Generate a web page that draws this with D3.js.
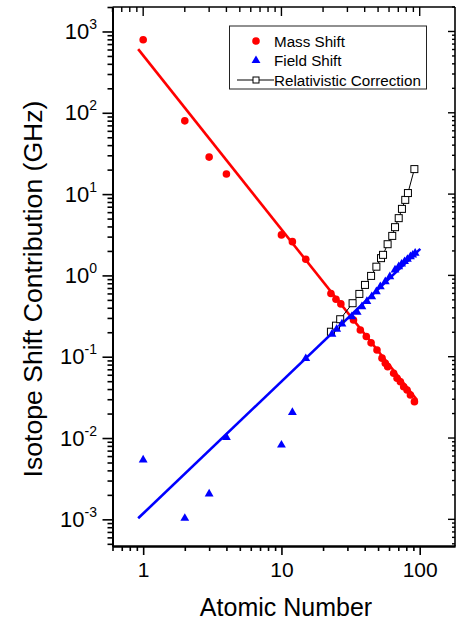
<!DOCTYPE html>
<html>
<head>
<meta charset="utf-8">
<script src="https://cdn.jsdelivr.net/npm/d3@7"></script>
<style>
  html, body { margin: 0; padding: 0; background: #fff; }
  svg { display: block; font-family: "Liberation Sans", Arial, Helvetica, sans-serif; }
</style>
</head>
<body>
<svg id="chart" width="456" height="623"></svg>
<script>
// ---------------- data ----------------
const massZ = [1, 2, 3, 4, 10, 12, 15, 22.8, 24.8, 26.9, 33.2, 37.2, 41.1, 44.5, 49.1, 53.4, 56.4, 58.7, 64.8, 68.6, 72.5, 76.6, 81, 85.7, 91.6];
const massShift = [791, 79.6, 28.5, 17.7, 3.15, 2.6, 1.58, 0.60, 0.51, 0.446, 0.283, 0.213, 0.177, 0.148, 0.121, 0.096, 0.083, 0.0755, 0.0626, 0.0543, 0.0493, 0.0428, 0.039, 0.0338, 0.028];

const fieldZ = [1, 2, 3, 4, 10, 12, 15, 23.2, 25.1, 27.4, 32.3, 35.3, 38.2, 41.5, 45, 48.6, 51.9, 56.4, 60.8, 66.3, 70.5, 74, 77.7, 81.5, 85.7, 89, 92.7];
const fieldShift = [0.00537, 0.00103, 0.00205, 0.0102, 0.0082, 0.0207, 0.095, 0.189, 0.218, 0.253, 0.311, 0.352, 0.413, 0.48, 0.548, 0.632, 0.728, 0.839, 0.966, 1.17, 1.28, 1.38, 1.48, 1.58, 1.70, 1.78, 1.88];

const relZ = [22.8, 24.8, 26.6, 32.7, 36.6, 40.2, 44.5, 48.6, 52.5, 54.3, 58.6, 63.3, 66.3, 70.5, 74.4, 78.6, 82.2, 91.5];
const relCorr = [0.203, 0.241, 0.289, 0.455, 0.592, 0.764, 0.986, 1.28, 1.63, 1.79, 2.42, 3.06, 3.92, 5.06, 6.58, 8.49, 10.3, 20.3];

// power-law fit lines (end points)
const massFitZ = [0.92, 95.7];
const massFitV = [607, 0.0294];
const fieldFitZ = [0.92, 101];
const fieldFitV = [0.00103, 2.12];

const xTickValues = [1, 10, 100];
const xTickLabels = ["1", "10", "100"];
const yTickExponents = [-3, -2, -1, 0, 1, 2, 3];

const legendLabels = ["Mass Shift", "Field Shift", "Relativistic Correction"];
const xTitle = "Atomic Number";
const yTitle = "Isotope Shift Contribution (GHz)";

// ---------------- layout ----------------
const pLeft = 112.5, pRight = 455, pTop = 7, pBottom = 546;
const svg = d3.select("#chart");

const x = d3.scaleLog().domain([0.6, 180]).range([pLeft, pRight]);
const y = d3.scaleLog().domain([4.7e-4, 2000]).range([pBottom, pTop]);

const xMinor = x.ticks().filter(v => !xTickValues.some(m => Math.abs(m - v) / m < 1e-9));
const yMajor = yTickExponents.map(e => Math.pow(10, e));
const yMinor = y.ticks().filter(v => !yMajor.some(m => Math.abs(m - v) / m < 1e-9));

const axisColor = "#000";

// frame lines
const frame = svg.append("g").attr("stroke", axisColor).attr("fill", "none");
frame.append("line").attr("x1", pLeft).attr("x2", pRight).attr("y1", pTop).attr("y2", pTop).attr("stroke-width", 1.6);
frame.append("line").attr("x1", pRight).attr("x2", pRight).attr("y1", pTop).attr("y2", pBottom).attr("stroke-width", 1.6);

// bottom axis
const gxMinor = svg.append("g").attr("transform", `translate(0,${pBottom})`)
  .call(d3.axisBottom(x).tickValues(xMinor).tickSize(5).tickSizeOuter(0).tickFormat(""));
const gx = svg.append("g").attr("transform", `translate(0,${pBottom})`)
  .call(d3.axisBottom(x).tickValues(xTickValues).tickSize(9).tickSizeOuter(0).tickPadding(7)
    .tickFormat((d, i) => xTickLabels[i]));
gx.selectAll("text").attr("font-size", 21).attr("fill", "#000").attr("font-family", "Liberation Sans, Arial, sans-serif");

// left axis
const gyMinor = svg.append("g").attr("transform", `translate(${pLeft},0)`)
  .call(d3.axisLeft(y).tickValues(yMinor).tickSize(5).tickSizeOuter(0).tickFormat(""));
const gy = svg.append("g").attr("transform", `translate(${pLeft},0)`)
  .call(d3.axisLeft(y).tickValues(yMajor).tickSize(10).tickSizeOuter(0).tickFormat(""));

[gxMinor, gx, gyMinor, gy].forEach(g => {
  g.select(".domain").attr("stroke", axisColor).attr("stroke-width", 2);
  g.selectAll(".tick line").attr("stroke", axisColor).attr("stroke-width", 1.6);
});

// y tick labels with superscripts
const yl = svg.append("g").attr("font-size", 22).attr("fill", "#000").attr("text-anchor", "end");
yTickExponents.forEach(e => {
  const t = yl.append("text").attr("x", 97).attr("y", y(Math.pow(10, e)) + 7.5);
  t.append("tspan").text("10");
  t.append("tspan").attr("font-size", 14).attr("dy", -10).text(String(e));
});

// top axis ticks (inward)
const topTicks = svg.append("g").attr("stroke", axisColor).attr("stroke-width", 1.4);
xMinor.forEach(v => topTicks.append("line").attr("x1", x(v)).attr("x2", x(v)).attr("y1", pTop).attr("y2", pTop + 5));
xTickValues.forEach(v => topTicks.append("line").attr("x1", x(v)).attr("x2", x(v)).attr("y1", pTop).attr("y2", pTop + 9));

// right axis ticks (inward)
const rightTicks = svg.append("g").attr("stroke", axisColor).attr("stroke-width", 1.4);
yMinor.forEach(v => rightTicks.append("line").attr("x1", pRight).attr("x2", pRight - 3).attr("y1", y(v)).attr("y2", y(v)));
yMajor.forEach(v => rightTicks.append("line").attr("x1", pRight).attr("x2", pRight - 7).attr("y1", y(v)).attr("y2", y(v)));

// axis titles
svg.append("text").attr("x", 286).attr("y", 616).attr("text-anchor", "middle")
  .attr("font-size", 25).attr("fill", "#000").text(xTitle);
svg.append("text").attr("transform", "translate(42,289) rotate(-90)").attr("text-anchor", "middle")
  .attr("font-size", 26.6).attr("fill", "#000").text(yTitle);

// ---------------- data marks ----------------
const plot = svg.append("g");
const line = d3.line().x(d => x(d[0])).y(d => y(d[1]));

// fit lines
plot.append("path").datum(massFitZ.map((z, i) => [z, massFitV[i]]))
  .attr("d", line).attr("stroke", "#ff0000").attr("stroke-width", 2.6).attr("fill", "none");
plot.append("path").datum(fieldFitZ.map((z, i) => [z, fieldFitV[i]]))
  .attr("d", line).attr("stroke", "#0000ff").attr("stroke-width", 2.6).attr("fill", "none");

// relativistic correction line + squares
const relData = relZ.map((z, i) => [z, relCorr[i]]);
plot.append("path").datum(relData).attr("d", line)
  .attr("stroke", "#000").attr("stroke-width", 1).attr("fill", "none");

const sq = 7;
plot.selectAll(".rel").data(relData).join("rect").attr("class", "rel")
  .attr("x", d => x(d[0]) - sq / 2).attr("y", d => y(d[1]) - sq / 2)
  .attr("width", sq).attr("height", sq)
  .attr("fill", "#fff").attr("stroke", "#000").attr("stroke-width", 1);

// mass shift circles
plot.selectAll(".mass").data(massZ.map((z, i) => [z, massShift[i]])).join("circle").attr("class", "mass")
  .attr("cx", d => x(d[0])).attr("cy", d => y(d[1])).attr("r", 3.8).attr("fill", "#ff0000");

// field shift triangles
const tri = d3.symbol().type(d3.symbolTriangle).size(34);
plot.selectAll(".field").data(fieldZ.map((z, i) => [z, fieldShift[i]])).join("path").attr("class", "field")
  .attr("transform", d => `translate(${x(d[0])},${y(d[1])})`).attr("d", tri).attr("fill", "#0000ff");

// ---------------- legend ----------------
const lg = svg.append("g");
lg.append("rect").attr("x", 229.5).attr("y", 26).attr("width", 197).attr("height", 63)
  .attr("fill", "#fff").attr("stroke", "#222").attr("stroke-width", 1);
const rowY = [41, 60.5, 80];
lg.append("circle").attr("cx", 256).attr("cy", rowY[0]).attr("r", 3.8).attr("fill", "#ff0000");
lg.append("path").attr("transform", `translate(256,${rowY[1]})`).attr("d", tri).attr("fill", "#0000ff");
lg.append("line").attr("x1", 237).attr("x2", 274).attr("y1", rowY[2]).attr("y2", rowY[2]).attr("stroke", "#000").attr("stroke-width", 1);
lg.append("rect").attr("x", 256 - 3).attr("y", rowY[2] - 3).attr("width", 6).attr("height", 6)
  .attr("fill", "#fff").attr("stroke", "#000").attr("stroke-width", 1);
legendLabels.forEach((t, i) => {
  lg.append("text").attr("x", 274).attr("y", rowY[i] + 5.5).attr("font-size", 15.2).attr("fill", "#000").text(t);
});
</script>
</body>
</html>
